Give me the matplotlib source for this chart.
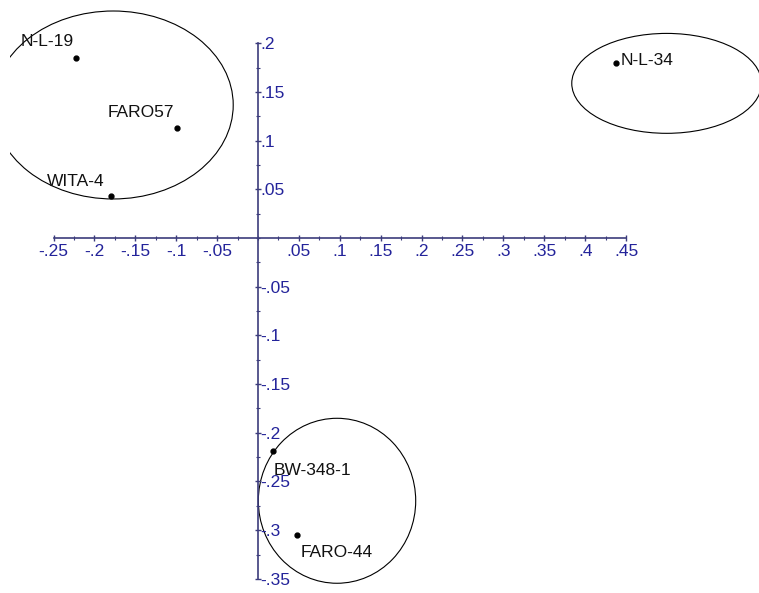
import matplotlib.pyplot as plt
from matplotlib.patches import Ellipse
from matplotlib.ticker import FixedLocator, FuncFormatter
import numpy as np

plt.rcParams['font.family'] = ['Liberation Sans', 'DejaVu Sans']

# 样本点
names = ['N-L-19', 'FARO57', 'WITA-4', 'N-L-34', 'BW-348-1', 'FARO-44']
xs = [-0.2225, -0.0987, -0.1797, 0.4377, 0.018, 0.048]
ys = [0.185, 0.1133, 0.0434, 0.18, -0.2184, -0.3046]

# 分组椭圆: 中心x, 中心y, 宽, 高
ell_cx = [-0.177, 0.4996, 0.0966]
ell_cy = [0.1366, 0.1588, -0.2698]
ell_w = [0.2934, 0.232, 0.1924]
ell_h = [0.193, 0.1026, 0.1694]

# 坐标轴刻度
xticks = [-0.25, -0.2, -0.15, -0.1, -0.05, 0.05, 0.1, 0.15, 0.2, 0.25, 0.3, 0.35, 0.4, 0.45]
yticks = [-0.35, -0.3, -0.25, -0.2, -0.15, -0.1, -0.05, 0.05, 0.1, 0.15, 0.2]

# 标签偏移(像素)
offs = [(-55, 16), (-70, 15), (-64, 14), (5, 2), (1, -20), (3, -18)]

axcol = '#3c3c7c'
labcol = '#23239a'

fig = plt.figure(figsize=(7.59, 5.93), dpi=100)
ax = fig.add_axes([10 / 759, 0, 749 / 759, 1])
ax.set_xlim(-0.3032, 0.6125)
ax.set_ylim(-0.3645, 0.2444)

for cx, cy, w, h in zip(ell_cx, ell_cy, ell_w, ell_h):
    ax.add_patch(Ellipse((cx, cy), w, h, fill=False, ec='black', lw=0.8))

ax.plot(xs, ys, 'o', color='black', ms=3.5)
for n, x, y, o in zip(names, xs, ys, offs):
    ax.annotate(n, (x, y), xytext=o, textcoords='offset pixels',
                ha='left', va='center', fontsize=12.5, color='#111111')

# 十字坐标轴
for s in ['top', 'right']:
    ax.spines[s].set_visible(False)
ax.spines['left'].set_position(('data', 0))
ax.spines['bottom'].set_position(('data', 0))
ax.spines['left'].set_bounds(min(yticks), max(yticks))
ax.spines['bottom'].set_bounds(min(xticks), max(xticks))
ax.spines['left'].set_color(axcol)
ax.spines['bottom'].set_color(axcol)
ax.spines['left'].set_linewidth(1.2)
ax.spines['bottom'].set_linewidth(1.2)

ax.xaxis.set_major_locator(FixedLocator(xticks))
ax.yaxis.set_major_locator(FixedLocator(yticks))
ax.xaxis.set_minor_locator(FixedLocator(np.arange(-0.25, 0.451, 0.025)))
ax.yaxis.set_minor_locator(FixedLocator(np.arange(-0.35, 0.201, 0.025)))

def fmt(v, pos):
    s = '%g' % round(v, 3)
    return s.replace('0.', '.')

ax.xaxis.set_major_formatter(FuncFormatter(fmt))
ax.yaxis.set_major_formatter(FuncFormatter(fmt))

ax.tick_params(which='major', direction='inout', length=5, width=1, color=axcol,
               labelcolor=labcol, labelsize=12.5)
ax.tick_params(which='minor', direction='inout', length=3, width=0.8, color=axcol)
ax.tick_params(axis='x', which='major', pad=1.5)
ax.tick_params(axis='y', which='major', pad=-4)
for t in ax.get_yticklabels():
    t.set_horizontalalignment('left')

fig.savefig('out.png', dpi=100)
